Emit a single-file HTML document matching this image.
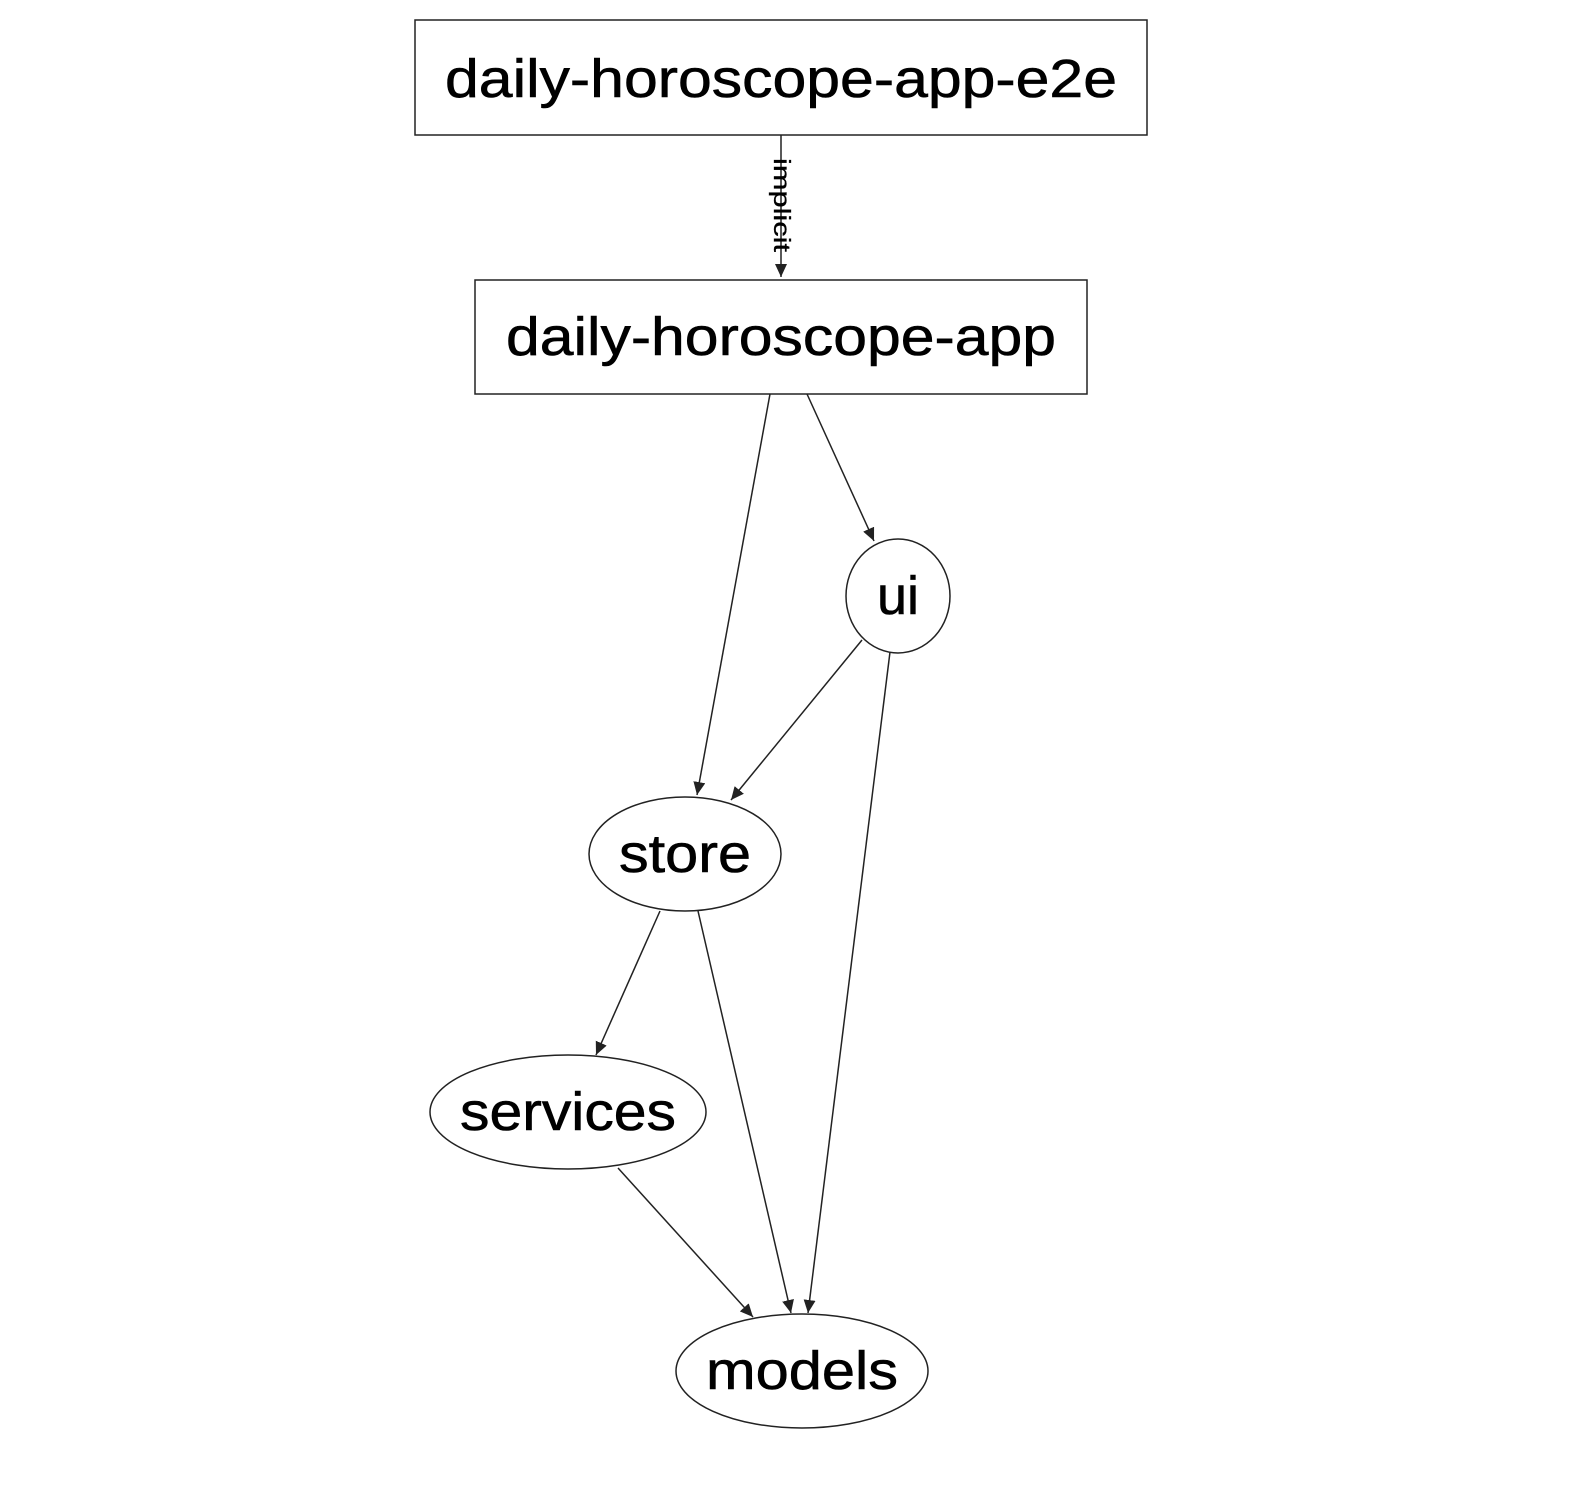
<!DOCTYPE html>
<html><head><meta charset="utf-8"><style>html,body{margin:0;padding:0;background:#fff}</style></head>
<body>
<svg width="1576" height="1480" viewBox="0 0 1576 1480" xmlns="http://www.w3.org/2000/svg" font-family="Liberation Sans, Arial, sans-serif">
<defs><marker id="a" markerWidth="14" markerHeight="14" refX="13" refY="6" orient="auto" markerUnits="userSpaceOnUse"><path d="M0,0 L13,6 L0,12 z" fill="#222"/></marker></defs>
<g fill="none" stroke="#222" stroke-width="1.5">
<rect x="415" y="20" width="732" height="115"/>
<rect x="475" y="280" width="612" height="114"/>
<ellipse cx="898" cy="596" rx="52" ry="57"/>
<ellipse cx="685" cy="854" rx="96" ry="57"/>
<ellipse cx="568" cy="1112" rx="138" ry="57"/>
<ellipse cx="802" cy="1371" rx="126" ry="57"/>
<g marker-end="url(#a)">
<line x1="781" y1="135" x2="781" y2="277"/>
<line x1="770" y1="394" x2="697" y2="795"/>
<line x1="807" y1="394" x2="874" y2="541"/>
<line x1="862" y1="640" x2="731" y2="800"/>
<line x1="890" y1="652" x2="808" y2="1313"/>
<line x1="660" y1="911" x2="596" y2="1055"/>
<line x1="698" y1="911" x2="791" y2="1313"/>
<line x1="618" y1="1168" x2="753" y2="1317"/>
</g></g>
<g fill="#000" text-anchor="middle" font-size="54" stroke="#000" stroke-width="0.6">
<text x="781" y="97" textLength="672" lengthAdjust="spacingAndGlyphs">daily-horoscope-app-e2e</text>
<text x="781" y="355" textLength="550" lengthAdjust="spacingAndGlyphs">daily-horoscope-app</text>
<text x="898" y="614">ui</text>
<text x="685" y="872" textLength="132" lengthAdjust="spacingAndGlyphs">store</text>
<text x="568" y="1130" textLength="216" lengthAdjust="spacingAndGlyphs">services</text>
<text x="802" y="1389" textLength="192" lengthAdjust="spacingAndGlyphs">models</text>
<text x="0" y="0" font-size="23" stroke-width="0.3" transform="translate(774,205) rotate(90)" textLength="94" lengthAdjust="spacingAndGlyphs">implicit</text>
</g>
</svg>
</body></html>
